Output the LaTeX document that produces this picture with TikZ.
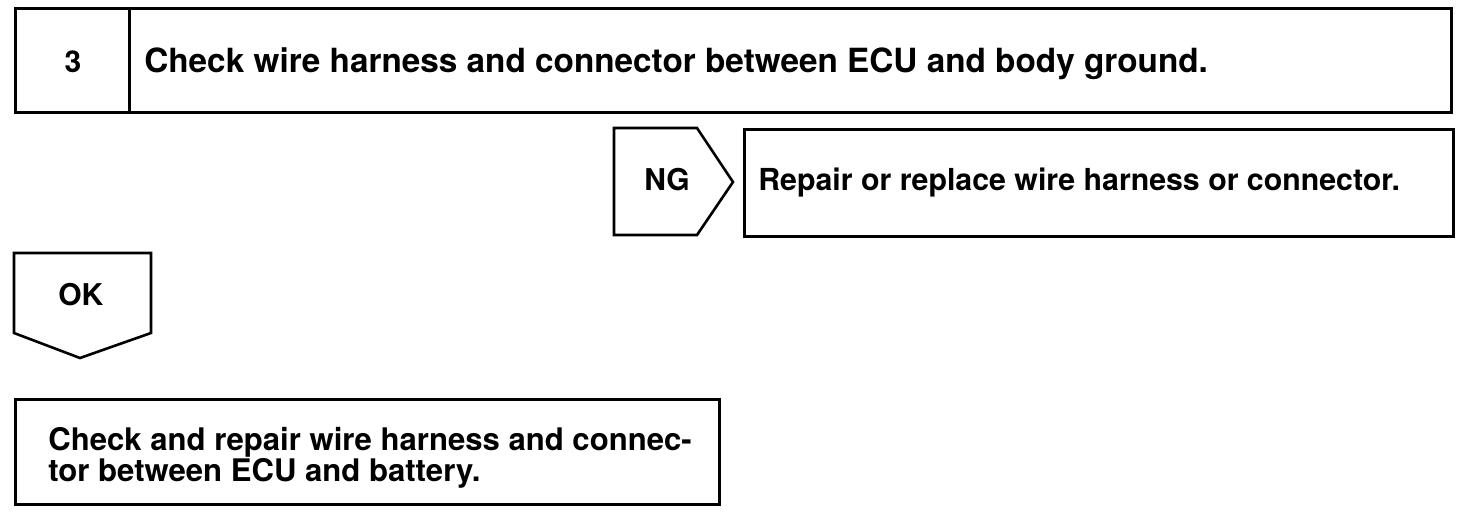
\documentclass[tikz,border=0pt]{standalone}
\usepackage{fontspec}
\setmainfont{TeX Gyre Heros}
\begin{document}
\begin{tikzpicture}[x=1pt,y=-1pt,line width=2.6pt,line join=miter,
  box/.style={draw,inner sep=0pt,anchor=north west},
  lbl/.style={inner sep=0pt,anchor=base west,font=\fontsize{30}{25}\selectfont\bfseries}]
\useasboundingbox (0,0) rectangle (1472,530);
% step 3 header
\node[box,minimum width=114pt,minimum height=104pt] (num) at (14,7) {};
\node[box,minimum width=1322pt,minimum height=104pt] (title) at (128,7) {};
\node[lbl,anchor=base] (n3) at (73,72) {3};
\node[lbl,font=\fontsize{33.3}{25}\selectfont\bfseries] (t3) at (143,72) {Check wire harness and connector between ECU and body ground.};
% NG branch
\draw (614,128) -- (697,128) -- (733,182) -- (697,235) -- (614,235) -- cycle;
\node[lbl] (ng) at (643,190) {NG};
\node[box,minimum width=709pt,minimum height=107pt] (repair) at (743,128) {};
\node[lbl,font=\fontsize{30.3}{25}\selectfont\bfseries] (trep) at (757,190) {Repair or replace wire harness or connector.};
% OK branch
\draw (14,253) -- (151,253) -- (151,333) -- (80,358) -- (14,333) -- cycle;
\node[lbl] (ok) at (57,305) {OK};
\node[box,minimum width=704pt,minimum height=105pt] (batt) at (14,398) {};
\node[lbl,align=left,anchor=north west,font=\fontsize{31.1}{25}\selectfont\bfseries] (tbatt) at (47,426) {Check and repair wire harness and connec-\\tor between ECU and battery.};
\end{tikzpicture}
\end{document}
